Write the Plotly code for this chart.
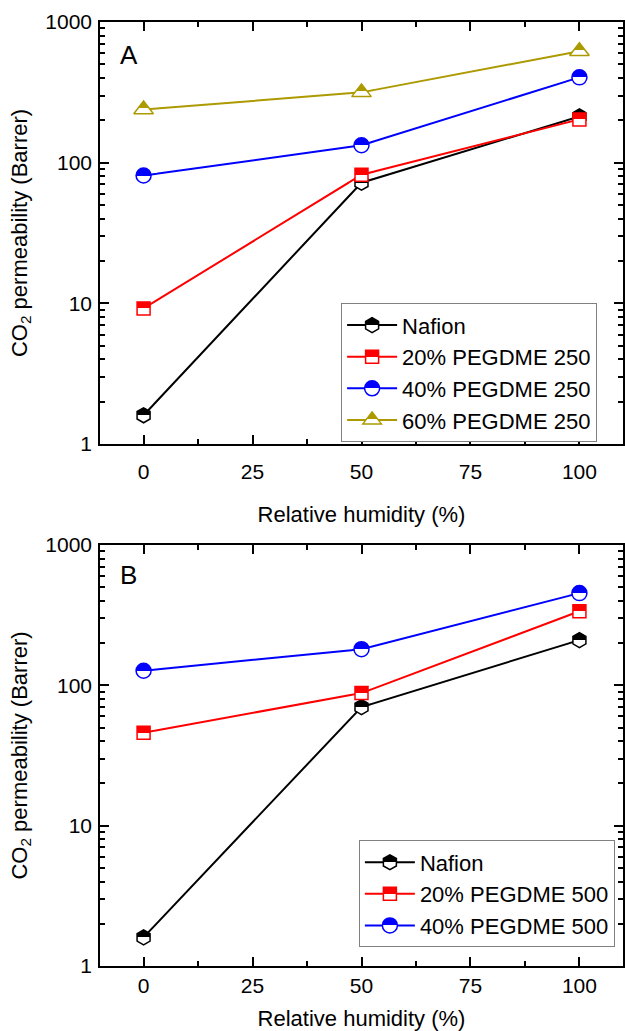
import plotly.graph_objects as go
from plotly.subplots import make_subplots

rh = [0, 50, 100]

# Panel A
a_names = ["Nafion", "20% PEGDME 250", "40% PEGDME 250", "60% PEGDME 250"]
a_nafion = [1.6, 72, 213]
a_p20 = [9.2, 82, 203]
a_p40 = [81, 133, 404]
a_p60 = [239, 316, 620]

# Panel B
b_names = ["Nafion", "20% PEGDME 500", "40% PEGDME 500"]
b_nafion = [1.6, 70, 210]
b_p20 = [46, 88, 337]
b_p40 = [127, 181, 454]

x_ticks = [0, 25, 50, 75, 100]
y_ticks = [1, 10, 100, 1000]
y_ticktext = ["1", "10", "100", "1000"]

colors = ["#000000", "#FF0000", "#0000FF", "#AC9A00"]
symbols = ["hexagon", "square", "circle", "triangle-up"]
sizes = [15, 13, 15, 17]

FONT = "Liberation Sans, Arial, sans-serif"

fig = make_subplots(rows=2, cols=1)

def add(series, names, row, legend):
    for i, (vals, name) in enumerate(zip(series, names)):
        fig.add_trace(go.Scatter(
            x=rh, y=vals, name=name, mode="lines+markers",
            line=dict(color=colors[i], width=2),
            marker=dict(symbol=symbols[i], size=sizes[i], color=colors[i],
                        gradient=dict(type="vertical", color="white"),
                        line=dict(color=colors[i], width=1.5)),
            legend=legend, showlegend=True,
        ), row=row, col=1)

add([a_nafion, a_p20, a_p40, a_p60], a_names, 1, "legend")
add([b_nafion, b_p20, b_p40], b_names, 2, "legend2")

xax = dict(range=[-10, 110], tickvals=x_ticks, ticks="inside", ticklen=9, tickwidth=1.5,
           minor=dict(dtick=12.5, tick0=0, ticks="inside", ticklen=5, tickwidth=1.5),
           showline=True, linecolor="black", linewidth=1.5, mirror="ticks",
           showgrid=False, zeroline=False, tickcolor="black", automargin=False,
           tickfont=dict(size=21, family=FONT, color="black"))
yax = dict(type="log", range=[0, 3], tickvals=y_ticks, ticktext=y_ticktext,
           ticks="inside", ticklen=9, tickwidth=1.5, ticklabelstandoff=2,
           minor=dict(dtick="D1", ticks="inside", ticklen=5, tickwidth=1.5),
           showline=True, linecolor="black", linewidth=1.5, mirror="ticks",
           showgrid=False, zeroline=False, tickcolor="black", automargin=False,
           tickfont=dict(size=21, family=FONT, color="black"),
           title=dict(text="CO<sub>2</sub> permeability (Barrer)", font=dict(size=22, family=FONT, color="black"), standoff=12))

fig.update_xaxes(**xax)
fig.update_yaxes(**yax)
xtitle_font = dict(size=22, family=FONT, color="black")
fig.update_layout(
    xaxis=dict(domain=[0, 1], ticklabelstandoff=8,
               title=dict(text="Relative humidity (%)", font=xtitle_font, standoff=25)),
    xaxis2=dict(domain=[0, 1], ticklabelstandoff=0,
                title=dict(text="Relative humidity (%)", font=xtitle_font, standoff=18)),
    yaxis=dict(domain=[0.553, 1.0]), yaxis2=dict(domain=[0.0, 0.446]),
)

leg = dict(bgcolor="white", bordercolor="#808080", borderwidth=1,
           font=dict(size=22, family=FONT, color="black"), itemwidth=50,
           xanchor="left", yanchor="top", tracegroupgap=0)
fig.update_layout(
    legend=dict(x=0.461, y=0.702, **leg),
    legend2=dict(x=0.495, y=0.133, **leg),
)

fig.add_annotation(text="A", xref="x domain", yref="y domain", x=0.035, y=0.922,
                   xanchor="left", yanchor="middle", showarrow=False,
                   font=dict(size=26, family=FONT, color="black"))
fig.add_annotation(text="B", xref="x2 domain", yref="y2 domain", x=0.035, y=0.928,
                   xanchor="left", yanchor="middle", showarrow=False,
                   font=dict(size=26, family=FONT, color="black"))

fig.update_layout(width=625, height=1031,
                  margin=dict(l=100, r=2, t=22, b=65, autoexpand=False),
                  plot_bgcolor="white", paper_bgcolor="white", showlegend=True)

post = """
document.body.style.margin = '0';
document.body.style.padding = '0';
document.body.style.overflow = 'hidden';
function sharpen(){
  document.querySelectorAll('linearGradient').forEach(function(g){
    var s = g.querySelectorAll('stop');
    if (s.length == 2) {
      var off = '50%';
      for (var k = 0; k < 2; k++) {
        var c = (s[k].getAttribute('stop-color') || '').replace(/ /g, '');
        if (c.indexOf('172,154,0') >= 0) { off = '42%'; }
      }
      s[0].setAttribute('offset', off); s[1].setAttribute('offset', off);
    }
  });
}
sharpen();
setInterval(sharpen, 50);
"""
fig.write_html("out.html", post_script=post, config={"displayModeBar": False})
